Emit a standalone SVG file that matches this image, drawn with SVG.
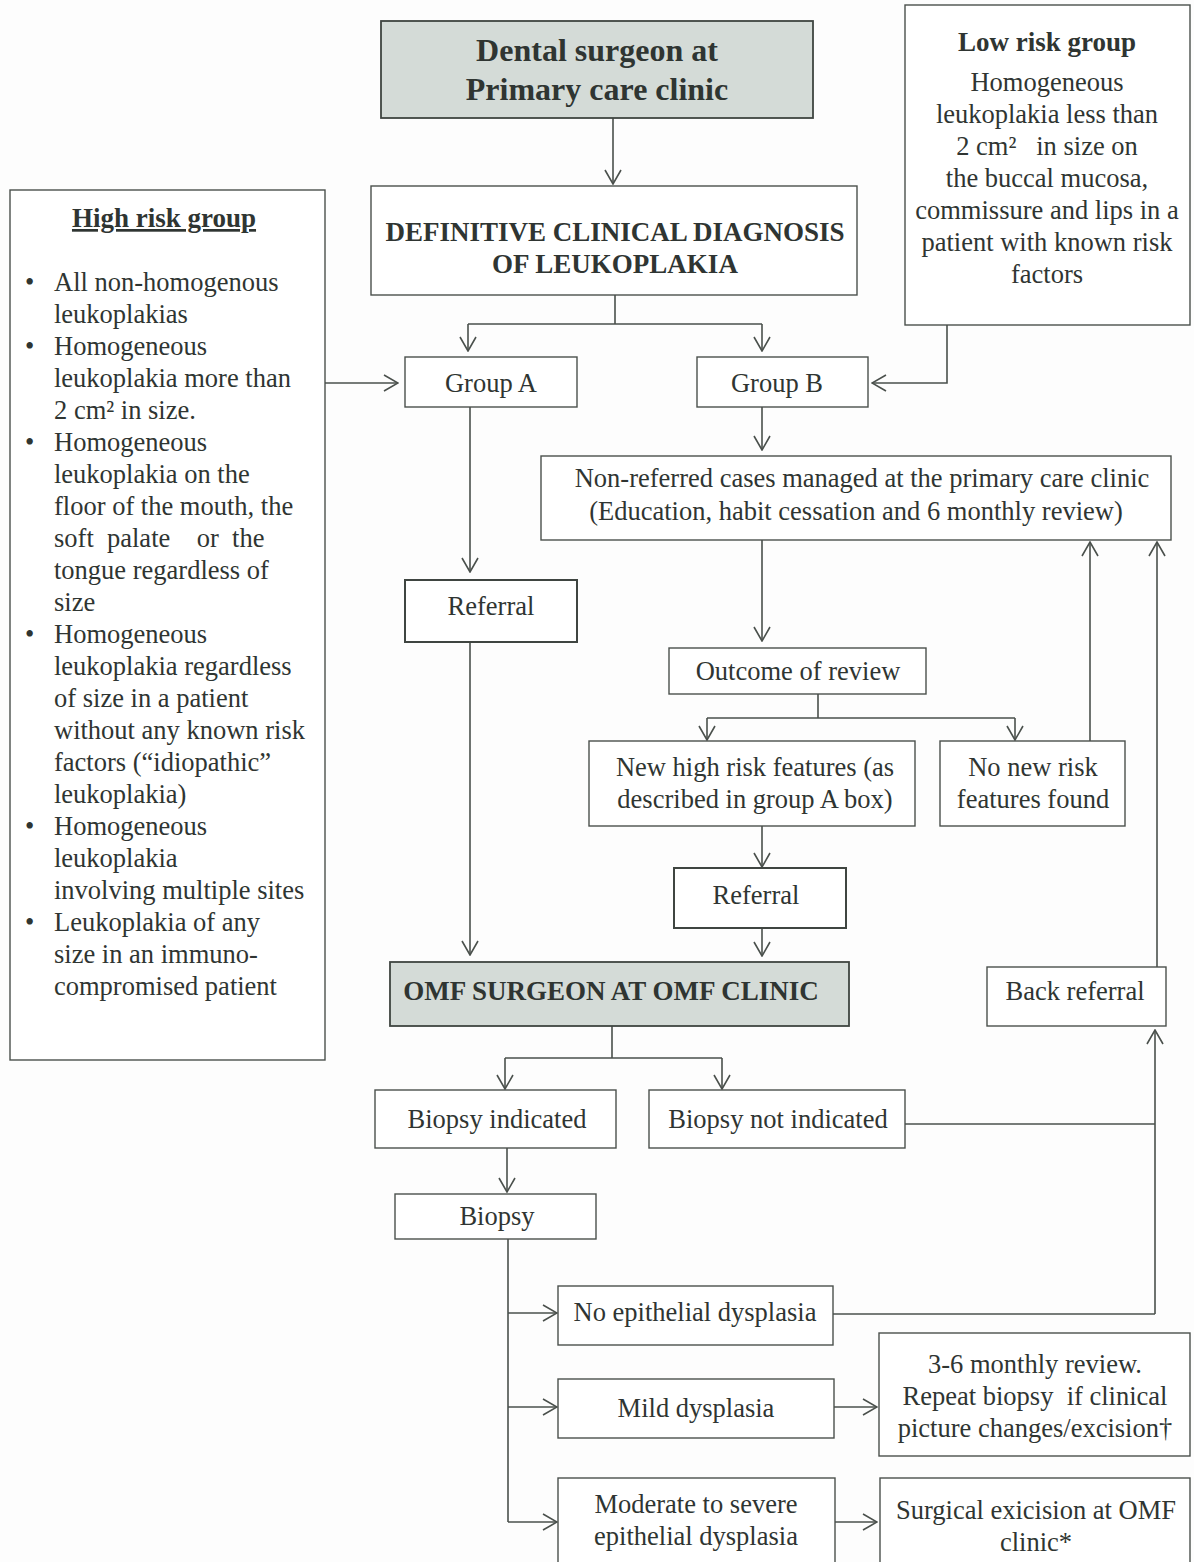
<svg xmlns="http://www.w3.org/2000/svg" width="1194" height="1562" viewBox="0 0 1194 1562">
  <style>
    .box { fill: #ffffff; stroke: #4a504c; stroke-width: 1.4; }
    .shade { fill: #d4dbd7; stroke: #3f4541; stroke-width: 1.8; }
    .heavy { fill: #ffffff; stroke: #3f4541; stroke-width: 2; }
    .t { font-family: "Liberation Serif", "Times New Roman", serif; font-size: 26.5px; fill: #2f3532; }
    .c { text-anchor: middle; }
    .b { font-weight: bold; font-size: 27px; }
    .big { font-size: 32px; }
    .pre { white-space: pre; }
    .line { fill: none; stroke: #4a504c; stroke-width: 1.6; }
  </style>
  <defs>
    <marker id="arrow" markerUnits="userSpaceOnUse" markerWidth="16" markerHeight="18" viewBox="0 0 16 18" refX="15" refY="9" orient="auto">
      <path d="M1,1 L15,9 L1,17" fill="none" stroke="#4a504c" stroke-width="1.6"/>
    </marker>
  </defs>
  <rect width="1194" height="1562" fill="#fdfdfd"/>

  <!-- connectors -->
  <g id="connectors" class="line">
    <path d="M613,118 V184" marker-end="url(#arrow)"/>
    <path d="M615,295 V324 M468,324 H762"/>
    <path d="M468,324 V351" marker-end="url(#arrow)"/>
    <path d="M762,324 V351" marker-end="url(#arrow)"/>
    <path d="M325,383 H398" marker-end="url(#arrow)"/>
    <path d="M947,325 V383 H872" marker-end="url(#arrow)"/>
    <path d="M470,407 V572" marker-end="url(#arrow)"/>
    <path d="M470,642 V955" marker-end="url(#arrow)"/>
    <path d="M762,407 V450" marker-end="url(#arrow)"/>
    <path d="M762,540 V641" marker-end="url(#arrow)"/>
    <path d="M818,694 V718 M707,718 H1015"/>
    <path d="M707,718 V740" marker-end="url(#arrow)"/>
    <path d="M1015,718 V740" marker-end="url(#arrow)"/>
    <path d="M1090,741 V542" marker-end="url(#arrow)"/>
    <path d="M1157,967 V542" marker-end="url(#arrow)"/>
    <path d="M762,826 V867" marker-end="url(#arrow)"/>
    <path d="M762,928 V956" marker-end="url(#arrow)"/>
    <path d="M612,1026 V1058 M505,1058 H722"/>
    <path d="M505,1058 V1089" marker-end="url(#arrow)"/>
    <path d="M722,1058 V1089" marker-end="url(#arrow)"/>
    <path d="M905,1124 H1155"/>
    <path d="M1155,1314 V1030" marker-end="url(#arrow)"/>
    <path d="M507,1148 V1192" marker-end="url(#arrow)"/>
    <path d="M508,1239 V1522"/>
    <path d="M508,1313 H557" marker-end="url(#arrow)"/>
    <path d="M508,1407 H557" marker-end="url(#arrow)"/>
    <path d="M508,1522 H557" marker-end="url(#arrow)"/>
    <path d="M833,1314 H1155"/>
    <path d="M834,1407 H877" marker-end="url(#arrow)"/>
    <path d="M835,1522 H877" marker-end="url(#arrow)"/>
  </g>

  <g id="dental-surgeon">
    <rect class="shade" x="381" y="21" width="432" height="97"/>
    <text class="t c b big" x="597" y="61">Dental surgeon at</text>
    <text class="t c b big" x="597" y="100">Primary care clinic</text>
  </g>

  <g id="definitive-diagnosis">
    <rect class="box" x="371" y="186" width="486" height="109"/>
    <text class="t c b" x="615" y="241">DEFINITIVE CLINICAL DIAGNOSIS</text>
    <text class="t c b" x="615" y="273">OF LEUKOPLAKIA</text>
  </g>

  <g id="low-risk">
    <rect class="box" x="905" y="5" width="285" height="320"/>
    <text class="t c b" x="1047" y="51">Low risk group</text>
    <text class="t c" x="1047" y="91">Homogeneous</text>
    <text class="t c" x="1047" y="123">leukoplakia less than</text>
    <text class="t c pre" x="1047" y="155">2 cm²   in size on</text>
    <text class="t c" x="1047" y="187">the buccal mucosa,</text>
    <text class="t c" x="1047" y="219">commissure and lips in a</text>
    <text class="t c" x="1047" y="251">patient with known risk</text>
    <text class="t c" x="1047" y="283">factors</text>
  </g>

  <g id="high-risk">
    <rect class="box" x="10" y="190" width="315" height="870"/>
    <text class="t c b" x="164" y="227" text-decoration="underline">High risk group</text>
    <g class="t">
      <text x="25" y="291">•</text>
      <text x="25" y="355">•</text>
      <text x="25" y="451">•</text>
      <text x="25" y="643">•</text>
      <text x="25" y="835">•</text>
      <text x="25" y="931">•</text>
    </g>
    <text class="t" x="54" y="291">All non-homogenous</text>
    <text class="t" x="54" y="323">leukoplakias</text>
    <text class="t" x="54" y="355">Homogeneous</text>
    <text class="t" x="54" y="387">leukoplakia more than</text>
    <text class="t" x="54" y="419">2 cm² in size.</text>
    <text class="t" x="54" y="451">Homogeneous</text>
    <text class="t" x="54" y="483">leukoplakia on the</text>
    <text class="t" x="54" y="515">floor of the mouth, the</text>
    <text class="t pre" x="54" y="547">soft  palate    or  the</text>
    <text class="t" x="54" y="579">tongue regardless of</text>
    <text class="t" x="54" y="611">size</text>
    <text class="t" x="54" y="643">Homogeneous</text>
    <text class="t" x="54" y="675">leukoplakia regardless</text>
    <text class="t" x="54" y="707">of size in a patient</text>
    <text class="t" x="54" y="739">without any known risk</text>
    <text class="t" x="54" y="771">factors (“idiopathic”</text>
    <text class="t" x="54" y="803">leukoplakia)</text>
    <text class="t" x="54" y="835">Homogeneous</text>
    <text class="t" x="54" y="867">leukoplakia</text>
    <text class="t" x="54" y="899">involving multiple sites</text>
    <text class="t" x="54" y="931">Leukoplakia of any</text>
    <text class="t" x="54" y="963">size in an immuno-</text>
    <text class="t" x="54" y="995">compromised patient</text>
  </g>

  <g id="group-a">
    <rect class="box" x="405" y="357" width="172" height="50"/>
    <text class="t c" x="491" y="392">Group A</text>
  </g>

  <g id="group-b">
    <rect class="box" x="697" y="357" width="171" height="50"/>
    <text class="t c" x="777" y="392">Group B</text>
  </g>

  <g id="referral-a">
    <rect class="heavy" x="405" y="580" width="172" height="62"/>
    <text class="t c" x="491" y="615">Referral</text>
  </g>

  <g id="non-referred">
    <rect class="box" x="541" y="456" width="630" height="84"/>
    <text class="t c" x="862" y="487">Non-referred cases managed at the primary care clinic</text>
    <text class="t c" x="856" y="520">(Education, habit cessation and 6 monthly review)</text>
  </g>

  <g id="outcome-review">
    <rect class="box" x="669" y="648" width="257" height="46"/>
    <text class="t c" x="798" y="680">Outcome of review</text>
  </g>

  <g id="new-high-risk">
    <rect class="box" x="589" y="741" width="326" height="85"/>
    <text class="t c" x="755" y="776">New high risk features (as</text>
    <text class="t c" x="755" y="808">described in group A box)</text>
  </g>

  <g id="no-new-risk">
    <rect class="box" x="940" y="741" width="185" height="85"/>
    <text class="t c" x="1033" y="776">No new risk</text>
    <text class="t c" x="1033" y="808">features found</text>
  </g>

  <g id="referral-b">
    <rect class="heavy" x="674" y="868" width="172" height="60"/>
    <text class="t c" x="756" y="904">Referral</text>
  </g>

  <g id="omf-surgeon">
    <rect class="shade" x="390" y="962" width="459" height="64"/>
    <text class="t c b" x="611" y="1000">OMF SURGEON AT OMF CLINIC</text>
  </g>

  <g id="back-referral">
    <rect class="box" x="987" y="967" width="179" height="59"/>
    <text class="t c" x="1075" y="1000">Back referral</text>
  </g>

  <g id="biopsy-indicated">
    <rect class="box" x="375" y="1090" width="241" height="58"/>
    <text class="t c" x="497" y="1128">Biopsy indicated</text>
  </g>

  <g id="biopsy-not-indicated">
    <rect class="box" x="649" y="1090" width="256" height="58"/>
    <text class="t c" x="778" y="1128">Biopsy not indicated</text>
  </g>

  <g id="biopsy">
    <rect class="box" x="395" y="1194" width="201" height="45"/>
    <text class="t c" x="497" y="1225">Biopsy</text>
  </g>

  <g id="no-dysplasia">
    <rect class="box" x="558" y="1286" width="275" height="59"/>
    <text class="t c" x="695" y="1321">No epithelial dysplasia</text>
  </g>

  <g id="mild-dysplasia">
    <rect class="box" x="558" y="1379" width="276" height="59"/>
    <text class="t c" x="696" y="1417">Mild dysplasia</text>
  </g>

  <g id="monthly-review">
    <rect class="box" x="879" y="1333" width="311" height="123"/>
    <text class="t c" x="1035" y="1373">3-6 monthly review.</text>
    <text class="t c pre" x="1035" y="1405">Repeat biopsy  if clinical</text>
    <text class="t c" x="1035" y="1437">picture changes/excision†</text>
  </g>

  <g id="moderate-severe">
    <rect class="box" x="558" y="1478" width="277" height="90"/>
    <text class="t c" x="696" y="1513">Moderate to severe</text>
    <text class="t c" x="696" y="1545">epithelial dysplasia</text>
  </g>

  <g id="surgical-excision">
    <rect class="box" x="880" y="1478" width="310" height="90"/>
    <text class="t c" x="1036" y="1519">Surgical exicision at OMF</text>
    <text class="t c" x="1036" y="1551">clinic*</text>
  </g>
</svg>
